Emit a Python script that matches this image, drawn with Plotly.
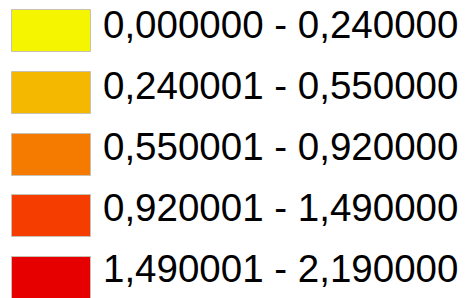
import plotly.graph_objects as go

labels = [
    "0,000000 - 0,240000",
    "0,240001 - 0,550000",
    "0,550001 - 0,920000",
    "0,920001 - 1,490000",
    "1,490001 - 2,190000",
]
colors = ["#f5f500", "#f5b800", "#f57a00", "#f53d00", "#e60000"]

W, H = 472, 298
rows = list(range(len(labels)))
row0, step = 31, 61.8          # pixel centre of first swatch, swatch pitch
txt0, txt_step = 28.5, 60.9    # pixel centre of first label, label pitch
sw_left, sw_w, sw_h = 12, 79, 42
text_x = 103

text_rows = [(txt0 + txt_step * i - row0) / step for i in rows]

fig = go.Figure()
fig.add_trace(go.Bar(
    y=rows, x=[sw_w] * len(rows), base=[sw_left] * len(rows),
    orientation="h", width=sw_h / step,
    marker=dict(color=colors, line=dict(color="#c8c0b0", width=1)),
    hoverinfo="skip", showlegend=False,
))
fig.add_trace(go.Scatter(
    y=text_rows, x=[text_x] * len(rows), mode="text", text=labels,
    textposition="middle right",
    textfont=dict(family="Liberation Sans, Arial, sans-serif", size=38.5, color="#000000"),
    hoverinfo="skip", showlegend=False,
))
fig.update_layout(
    width=W, height=H, margin=dict(l=0, r=0, t=0, b=0),
    paper_bgcolor="white", plot_bgcolor="white",
    xaxis=dict(range=[0, W], visible=False, fixedrange=True),
    yaxis=dict(range=[(H - row0) / step, -row0 / step], visible=False, fixedrange=True),
    bargap=0,
)
fig.write_html("out.html", config={"displayModeBar": False},
               post_script="document.body.style.margin='0';document.body.style.overflow='hidden';")
